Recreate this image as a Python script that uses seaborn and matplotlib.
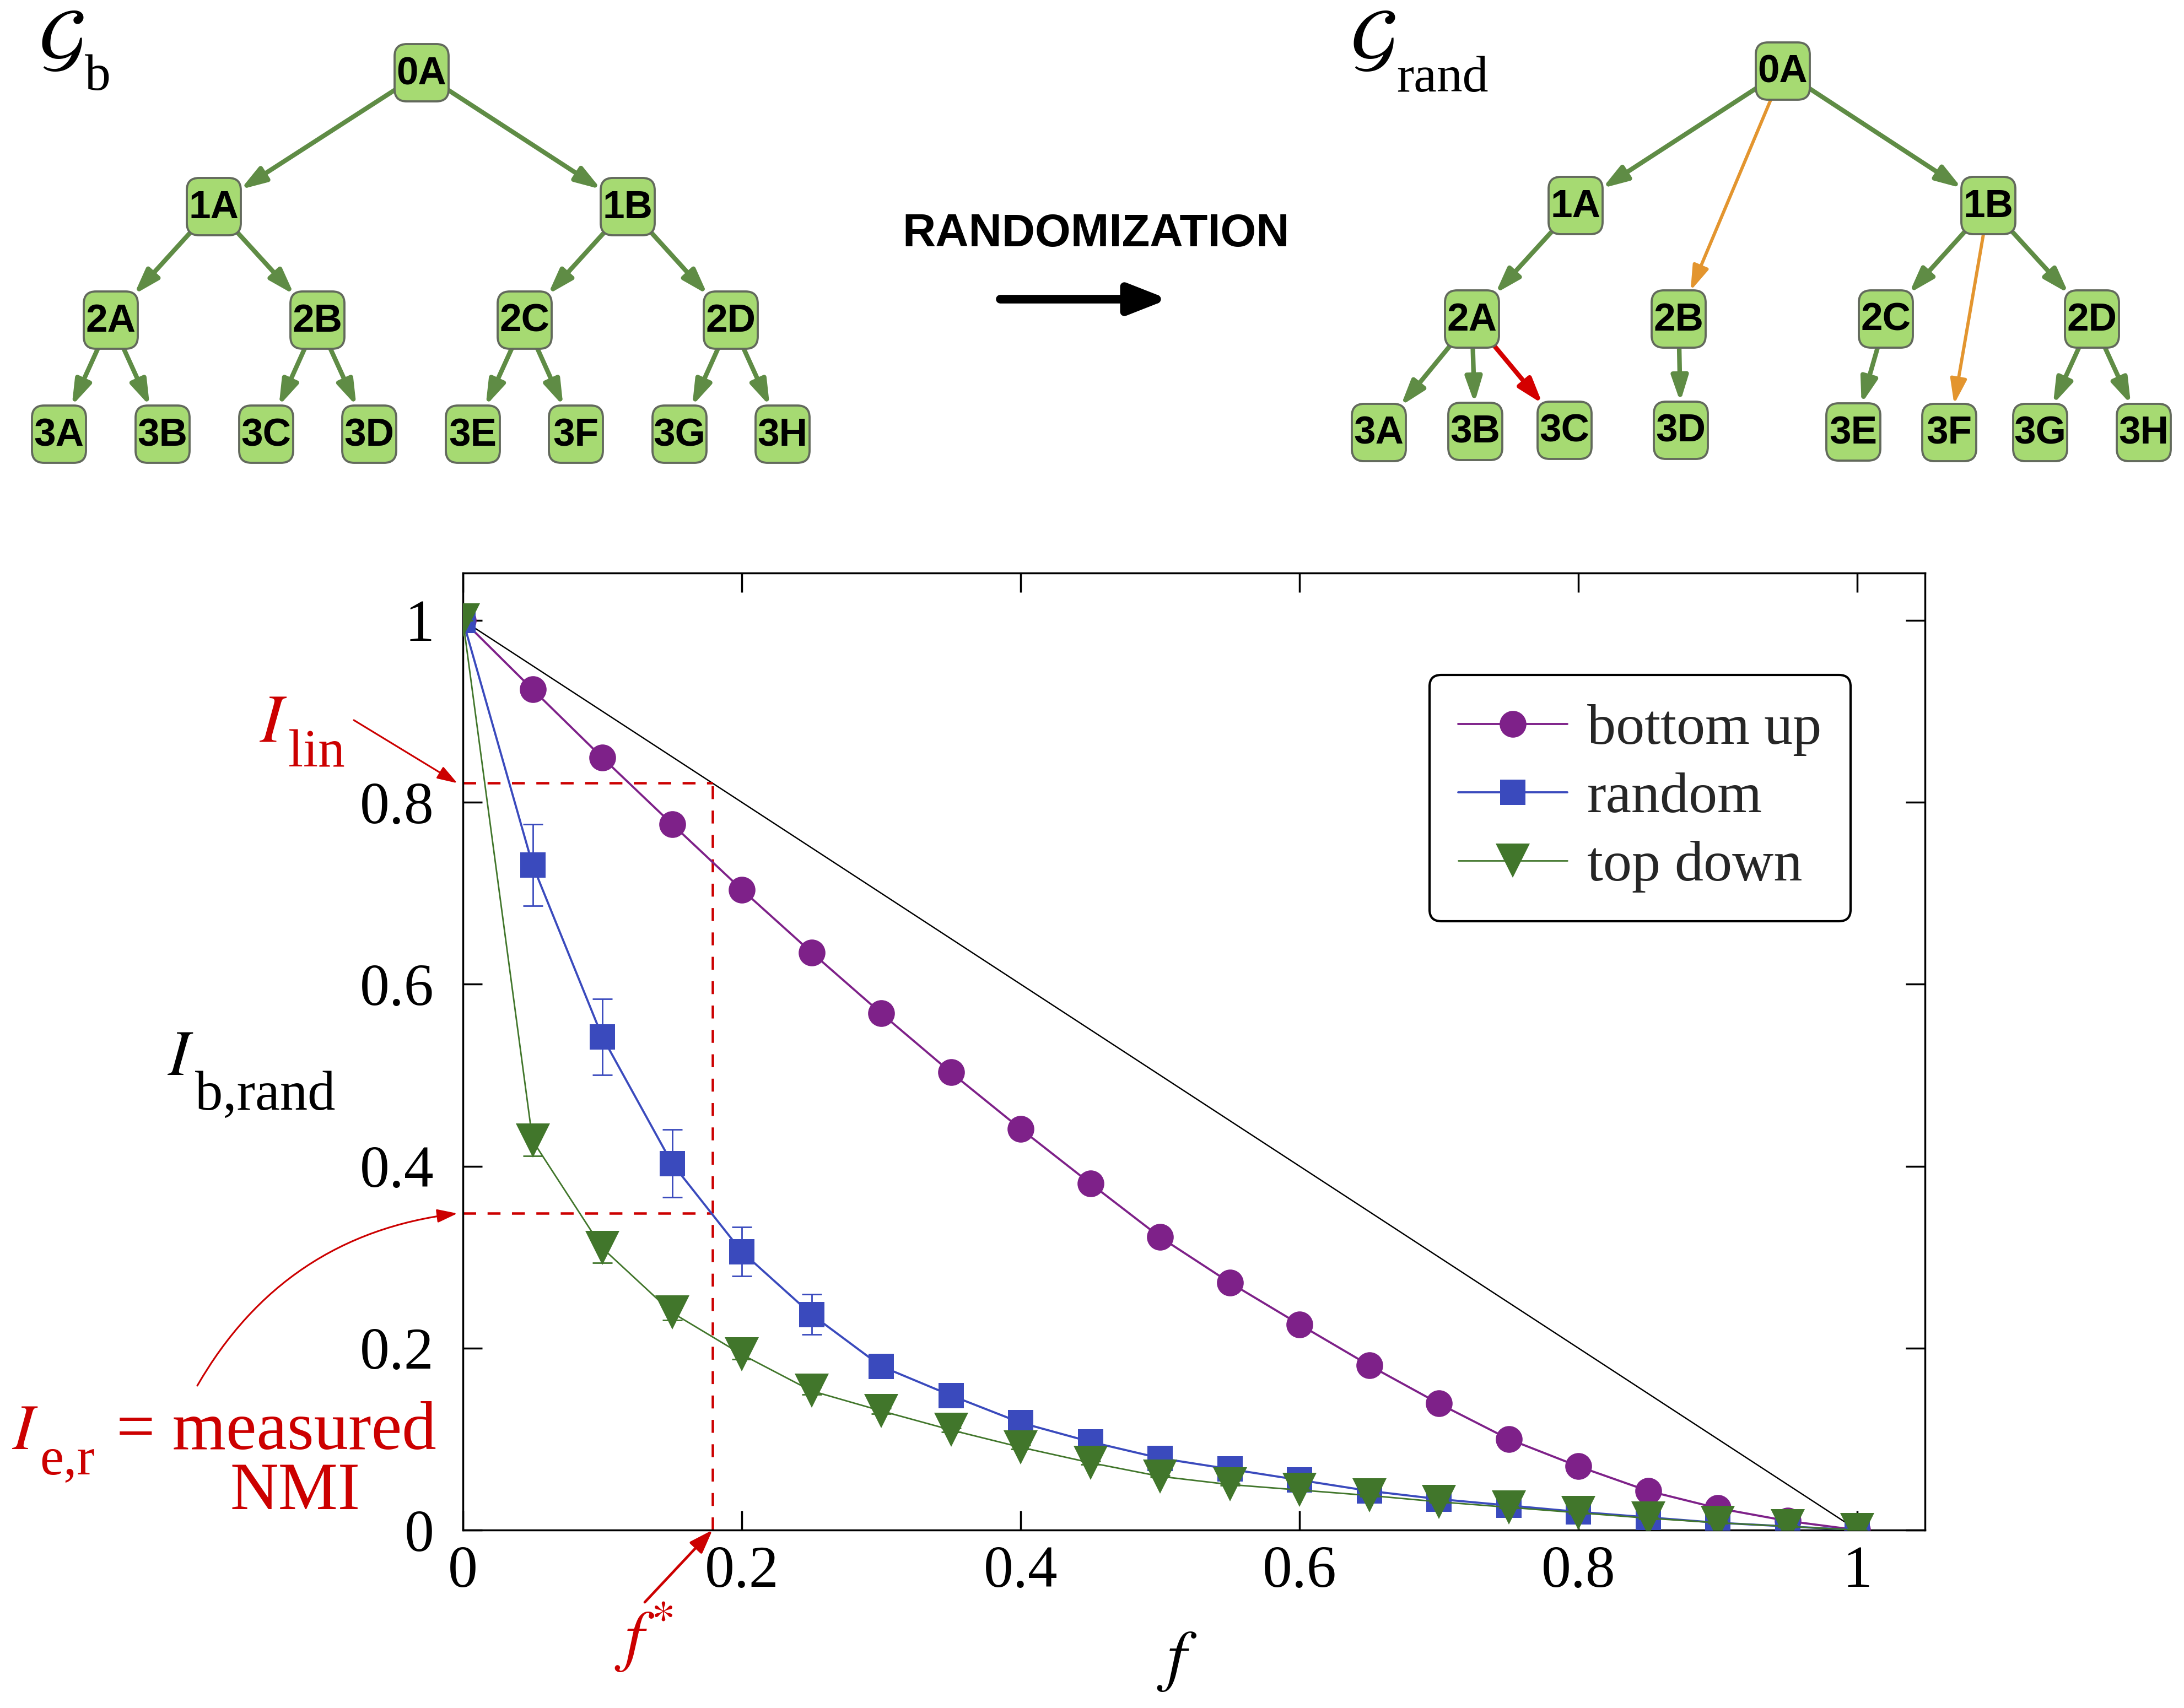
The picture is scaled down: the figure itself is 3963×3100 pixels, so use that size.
import matplotlib
matplotlib.use("Agg")
import matplotlib.pyplot as plt
from matplotlib.patches import FancyBboxPatch, FancyArrowPatch
import seaborn as sns

# ---- values ----
f_frac = [0.00, 0.05, 0.10, 0.15, 0.20, 0.25, 0.30, 0.35, 0.40, 0.45, 0.50,
          0.55, 0.60, 0.65, 0.70, 0.75, 0.80, 0.85, 0.90, 0.95, 1.00]
bottom_up = [1.000, 0.924, 0.849, 0.776, 0.704, 0.635, 0.568, 0.503, 0.441, 0.381, 0.322,
             0.272, 0.226, 0.181, 0.139, 0.100, 0.070, 0.043, 0.024, 0.010, 0.000]
random_nmi = [1.000, 0.731, 0.542, 0.403, 0.306, 0.237, 0.180, 0.148, 0.118, 0.097, 0.079,
              0.067, 0.055, 0.043, 0.034, 0.027, 0.020, 0.014, 0.008, 0.004, 0.000]
random_err = [0.000, 0.045, 0.042, 0.037, 0.027, 0.022, 0.008, 0.006, 0.005, 0.004, 0.003,
              0.003, 0.002, 0.002, 0.002, 0.002, 0.001, 0.001, 0.001, 0.001, 0.000]
top_down = [1.000, 0.428, 0.310, 0.239, 0.193, 0.153, 0.131, 0.110, 0.091, 0.074, 0.059,
            0.050, 0.044, 0.038, 0.031, 0.025, 0.019, 0.013, 0.008, 0.004, 0.000]
top_down_err = [0.000, 0.017, 0.016, 0.008, 0.005, 0.004, 0.003, 0.002, 0.002, 0.002, 0.001,
                0.001, 0.001, 0.001, 0.001, 0.001, 0.001, 0.001, 0.001, 0.001, 0.000]
series_labels = ["bottom up", "random", "top down"]

lin_f = [0.0, 1.0]
lin_I = [1.0, 0.0]
F_STAR = 0.179
I_LIN = 0.821
I_MEAS = 0.348

tick_vals = [0, 0.2, 0.4, 0.6, 0.8, 1]
tick_labels = ["0", "0.2", "0.4", "0.6", "0.8", "1"]

# tree diagrams (pixel layout of the top panel)
left_nodes = {
    "0A": (765, 132), "1A": (388, 375), "1B": (1139, 375),
    "2A": (201, 581), "2B": (576, 581), "2C": (952, 581), "2D": (1326, 581),
    "3A": (107, 788), "3B": (295, 788), "3C": (483, 788), "3D": (670, 788),
    "3E": (858, 788), "3F": (1045, 788), "3G": (1233, 788), "3H": (1420, 788),
}
left_edges = [("0A", "1A"), ("0A", "1B"), ("1A", "2A"), ("1A", "2B"), ("1B", "2C"),
              ("1B", "2D"), ("2A", "3A"), ("2A", "3B"), ("2B", "3C"), ("2B", "3D"),
              ("2C", "3E"), ("2C", "3F"), ("2D", "3G"), ("2D", "3H")]
right_nodes = {
    "0A": (3235, 129), "1A": (2859, 373), "1B": (3608, 373),
    "2A": (2671, 579), "2B": (3046, 579), "2C": (3422, 579), "2D": (3796, 579),
    "3A": (2502, 785), "3B": (2677, 783), "3C": (2839, 781), "3D": (3050, 781),
    "3E": (3363, 784), "3F": (3537, 785), "3G": (3702, 785), "3H": (3890, 785),
}
right_edges = [("0A", "1A", "keep"), ("0A", "1B", "keep"), ("0A", "2B", "moved"),
               ("1A", "2A", "keep"), ("1B", "2C", "keep"), ("1B", "2D", "keep"),
               ("1B", "3F", "moved"), ("2A", "3A", "keep"), ("2A", "3B", "keep"),
               ("2A", "3C", "new"), ("2B", "3D", "keep"), ("2C", "3E", "keep"),
               ("2D", "3G", "keep"), ("2D", "3H", "keep")]

PURPLE = "#7e2189"
BLUE = "#3a4abd"
GREEN = "#41762b"
RED = "#cc0000"
NODE_FILL = "#a6da72"
NODE_EDGE = "#62695c"
EDGE_COLORS = {"keep": "#5f8c45", "moved": "#e3952f", "new": "#d40000"}
EDGE_WIDTHS = {"keep": 2.4, "moved": 1.7, "new": 2.4}

sns.set_theme(style="ticks")
plt.rcParams["font.family"] = ["Liberation Serif", "DejaVu Serif"]
plt.rcParams["mathtext.fontset"] = "stix"

W, H = 3963, 3100
fig = plt.figure(figsize=(W / 250, H / 250), dpi=250)
fig.patch.set_facecolor("white")

ax = fig.add_axes([840 / W, 1 - 2777 / H, 2653 / W, 1737 / H])
ax.set_facecolor("white")

# reference line and guides
ax.plot(lin_f, lin_I, color="black", lw=0.7, zorder=1)
dash = dict(color=RED, lw=1.3, dashes=(5.2, 4.6), zorder=1.5)
ax.plot([0, F_STAR], [I_LIN, I_LIN], **dash)
ax.plot([0, F_STAR], [I_MEAS, I_MEAS], **dash)
ax.plot([F_STAR, F_STAR], [0, I_LIN], **dash)

sns.lineplot(x=f_frac, y=bottom_up, ax=ax, color=PURPLE, marker="o", markersize=14,
             markeredgewidth=0, linewidth=1.1, label=series_labels[0], zorder=3)
h_bu = ax.lines[-1]
ax.errorbar(f_frac, random_nmi, yerr=random_err, fmt="none", ecolor=BLUE,
            elinewidth=0.8, capsize=5.3, capthick=0.8, zorder=3.5)
sns.lineplot(x=f_frac, y=random_nmi, ax=ax, color=BLUE, marker="s", markersize=13.5,
             markeredgewidth=0, linewidth=1.1, label=series_labels[1], zorder=4)
h_rn = ax.lines[-1]
ax.errorbar(f_frac, top_down, yerr=top_down_err, fmt="none", ecolor=GREEN,
            elinewidth=0.8, capsize=5.3, capthick=0.8, zorder=4.5)
sns.lineplot(x=f_frac, y=top_down, ax=ax, color=GREEN, marker="v", markersize=18,
             markeredgewidth=0, linewidth=0.8, label=series_labels[2], zorder=5)
h_td = ax.lines[-1]

ax.set_xlim(0, 1.0486)
ax.set_ylim(0, 1.052)
ax.set_xticks(tick_vals)
ax.set_xticklabels(tick_labels)
ax.set_yticks(tick_vals)
ax.set_yticklabels(tick_labels)
ax.set_xlabel("")
ax.set_ylabel("")
ax.tick_params(direction="in", length=10, width=1.0, top=True, right=True,
               labelsize=31, colors="black")
ax.tick_params(axis="x", pad=8)
ax.tick_params(axis="y", pad=15)
for sp in ax.spines.values():
    sp.set_visible(True)
    sp.set_linewidth(1.0)
    sp.set_color("black")

leg = ax.legend([h_bu, h_rn, h_td], series_labels, loc="upper right",
                bbox_to_anchor=(0.949, 0.8935), borderaxespad=0, frameon=True,
                fancybox=True, framealpha=1, fontsize=30, handlelength=1.9,
                handletextpad=0.35, labelspacing=0.28, borderpad=0.5)
leg.get_frame().set_edgecolor("black")
leg.get_frame().set_linewidth(1.2)

# overlay in pixel coordinates for the diagrams and annotations
ov = fig.add_axes([0, 0, 1, 1])
ov.set_xlim(0, W)
ov.set_ylim(H, 0)
ov.axis("off")
ov.patch.set_alpha(0)


def sub_label(x, y, main, sub, size, sub_size, color, drop, gap=0.5):
    t = ov.text(x, y, main, fontsize=size, color=color, ha="left", va="baseline")
    ov.annotate(sub, xy=(1, 0), xycoords=t, xytext=(gap, -drop),
                textcoords="offset points", fontsize=sub_size, color=color,
                ha="left", va="baseline")


def draw_tree(nodes, edges):
    boxes = {}
    for name, (x, y) in nodes.items():
        b = FancyBboxPatch((x - 49, y - 52), 98, 104,
                           boxstyle="round,pad=0,rounding_size=22",
                           facecolor=NODE_FILL, edgecolor=NODE_EDGE, lw=1.1, zorder=3)
        ov.add_patch(b)
        boxes[name] = b
        ov.text(x, y + 3, name, ha="center", va="center", fontsize=20.5,
                fontweight="bold", family="Liberation Sans", color="black", zorder=4)
    for e in edges:
        a, b = e[0], e[1]
        kind = e[2] if len(e) > 2 else "keep"
        arr = FancyArrowPatch(nodes[a], nodes[b], patchA=boxes[a], patchB=boxes[b],
                              shrinkA=0, shrinkB=0,
                              arrowstyle="-|>,head_length=1.1,head_width=0.36",
                              mutation_scale=10, color=EDGE_COLORS[kind],
                              lw=EDGE_WIDTHS[kind], zorder=2)
        ov.add_patch(arr)


draw_tree(left_nodes, left_edges)
draw_tree(right_nodes, right_edges)

sub_label(70, 112, r"$\mathcal{G}$", "b", 40, 27, "black", 6)
sub_label(2450, 112, r"$\mathcal{G}$", "rand", 40, 27, "black", 7)

ov.text(1989, 425, "RANDOMIZATION", ha="center", va="center", fontsize=24,
        fontweight="bold", family="Liberation Sans", color="black")
ov.annotate("", xy=(2120, 543), xytext=(1815, 543),
            arrowprops=dict(arrowstyle="-|>,head_length=1.4,head_width=0.55",
                            mutation_scale=12, lw=4.5, color="black",
                            shrinkA=0, shrinkB=0))

# axis labels
sub_label(304, 1951, r"$I$", "b,rand", 34, 29, "black", 11)
ov.text(2136, 3045, r"$f$", fontsize=36, ha="center", va="baseline", color="black")

# red annotations
sub_label(470, 1345, r"$I$", "lin", 36, 28, RED, 5.5)
ov.annotate("", xy=(-0.004, I_LIN), xycoords=ax.transData, xytext=(642, 1307),
            textcoords="data", annotation_clip=False,
            arrowprops=dict(arrowstyle="-|>,head_length=0.9,head_width=0.3",
                            mutation_scale=10, lw=0.9, color=RED, shrinkA=0, shrinkB=0))

sub_label(22, 2630, r"$I$", "e,r", 34, 28, RED, 6)
ov.text(211, 2630, "= measured", fontsize=36, color=RED, ha="left", va="baseline")
ov.text(536, 2739, "NMI", fontsize=35, color=RED, ha="center", va="baseline")
ov.annotate("", xy=(-0.004, I_MEAS), xycoords=ax.transData, xytext=(358, 2515),
            textcoords="data", annotation_clip=False,
            arrowprops=dict(arrowstyle="-|>,head_length=0.9,head_width=0.3",
                            mutation_scale=10, lw=0.9, color=RED, shrinkA=0, shrinkB=0,
                            connectionstyle="arc3,rad=-0.25"))

ov.text(1115, 3010, r"$f^{*}$", fontsize=36, color=RED, ha="left", va="baseline")
ov.annotate("", xy=(F_STAR, 0), xycoords=ax.transData, xytext=(1170, 2908),
            textcoords="data", annotation_clip=False,
            arrowprops=dict(arrowstyle="-|>,head_length=1.05,head_width=0.37",
                            mutation_scale=10, lw=1.35, color=RED, shrinkA=0, shrinkB=0))

fig.savefig("out.png", dpi=250, facecolor="white")
